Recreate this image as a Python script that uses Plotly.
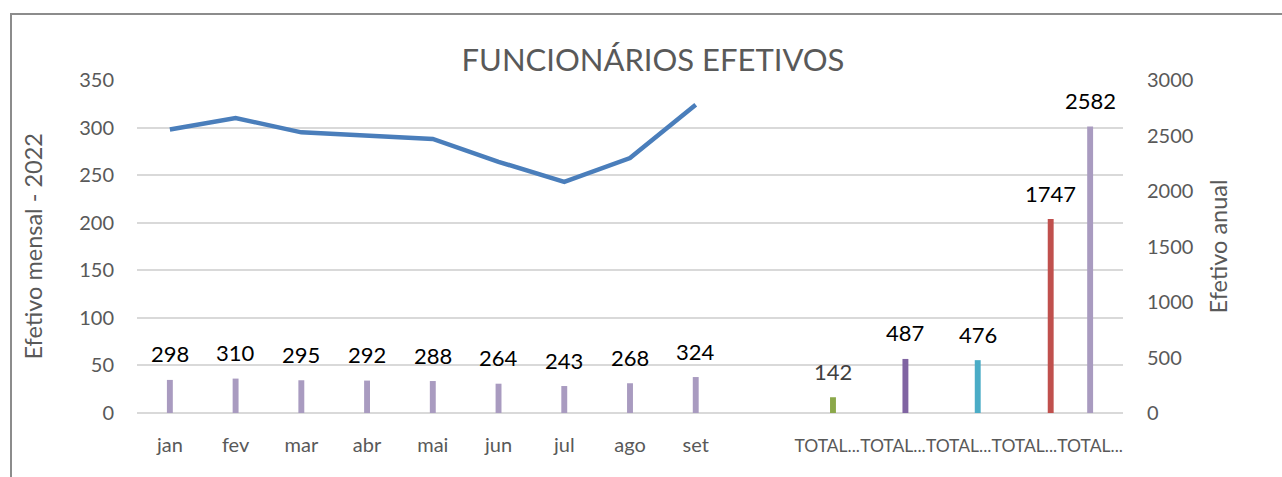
import plotly.graph_objects as go

# Categorias do eixo horizontal (meses de 2022, um espaço vazio e os totais anuais)
meses = ["jan", "fev", "mar", "abr", "mai", "jun", "jul", "ago", "set"]
rotulos_totais = ["TOTAL...", "TOTAL...", "TOTAL...", "TOTAL...", "TOTAL..."]
categorias = meses + [""] + rotulos_totais

# Efetivo mensal (linha no eixo principal e barras no eixo secundário)
efetivo_mensal = [298, 310, 295, 292, 288, 264, 243, 268, 324]

# Efetivo anual (barras no eixo secundário)
totais = [142, 487, 476, 1747, 2582]

# Estilo
COR_LINHA = "#4A7EBB"
COR_MES = "#A99BC0"
cores_totais = ["#8BA84A", "#8064A2", "#4BACC6", "#C0504D", "#A99BC0"]
deslocamento_totais = [0.088, 0.19, 0.29, 0.40, 0.0]
LARGURA = 0.09
FONTE = "Lato"
CINZA_TEXTO = "#595959"
CINZA_GRADE = "#D9D9D9"

pos_meses = list(range(len(meses)))
pos_totais = list(range(len(meses) + 1, len(categorias)))

x_barras = pos_meses + pos_totais
y_barras = efetivo_mensal + totais
cores_barras = [COR_MES] * len(meses) + cores_totais
offsets = [-LARGURA / 2] * len(meses) + [d - LARGURA / 2 for d in deslocamento_totais]

# Rótulos dos totais um pouco menores para caberem lado a lado
textos_eixo_x = meses + [""] + [
    f'<span style="font-size:17.5px">{r}</span>' for r in rotulos_totais
]

fig = go.Figure()

fig.add_trace(go.Bar(
    x=x_barras, y=y_barras, yaxis="y2",
    width=LARGURA, offset=offsets,
    marker=dict(color=cores_barras, line=dict(width=0)),
    showlegend=False, hoverinfo="x+y",
))

fig.add_trace(go.Scatter(
    x=pos_meses, y=efetivo_mensal, mode="lines",
    line=dict(color=COR_LINHA, width=4.5),
    showlegend=False,
))

# Rótulos de valor acima de cada barra
anotacoes = []
cores_rotulos = ["#000000"] * len(meses) + ["#404040", "#000000", "#000000", "#000000", "#000000"]
for xi, yi, off, cor in zip(x_barras, y_barras, offsets, cores_rotulos):
    anotacoes.append(dict(
        x=xi + off + LARGURA / 2, y=yi, xref="x", yref="y2",
        text=str(yi), showarrow=False, yshift=26,
        font=dict(family=FONTE, size=22, color=cor),
    ))

# Títulos dos eixos
anotacoes.append(dict(
    x=-0.1055, y=0.5, xref="paper", yref="paper", text="Efetivo mensal - 2022",
    textangle=-90, showarrow=False, xanchor="center", yanchor="middle",
    font=dict(family=FONTE, size=23.5, color=CINZA_TEXTO),
))
anotacoes.append(dict(
    x=1.0963, y=0.5, xref="paper", yref="paper", text="Efetivo anual",
    textangle=-90, showarrow=False, xanchor="center", yanchor="middle",
    font=dict(family=FONTE, size=23.5, color=CINZA_TEXTO),
))

# Moldura da área do gráfico (borda superior e esquerda)
W, H = 1282, 477
L, R, T, B = 137, 159, 80, 64
pw, ph = W - L - R, H - T - B


def px_x(px):
    return (px - L) / pw


def px_y(py):
    return (H - B - py) / ph


moldura = dict(
    type="path", xref="paper", yref="paper",
    path=f"M {px_x(11)} {px_y(480)} L {px_x(11)} {px_y(14)} L {px_x(1290)} {px_y(14)}",
    line=dict(color="#8C8C8C", width=2),
)

fig.update_layout(
    width=W, height=H,
    margin=dict(l=L, r=R, t=T, b=B),
    paper_bgcolor="white", plot_bgcolor="white",
    barmode="overlay",
    title=dict(
        text="FUNCIONÁRIOS EFETIVOS", x=653 / W, xref="container", xanchor="center",
        y=1 - 60 / H, yref="container", yanchor="middle",
        font=dict(family=FONTE, size=31, color=CINZA_TEXTO),
    ),
    xaxis=dict(
        range=[-0.5, len(categorias) - 0.5],
        tickmode="array", tickvals=list(range(len(categorias))), ticktext=textos_eixo_x,
        tickangle=0, showgrid=False, zeroline=False, showline=False, ticks="",
        tickfont=dict(family=FONTE, size=20, color=CINZA_TEXTO),
        ticklabelstandoff=18,
    ),
    yaxis=dict(
        range=[0, 350], dtick=50, tick0=0,
        showgrid=True, gridcolor=CINZA_GRADE, gridwidth=1.5,
        zeroline=True, zerolinecolor=CINZA_GRADE, zerolinewidth=1.5,
        showline=False, ticks="",
        tickfont=dict(family=FONTE, size=20, color=CINZA_TEXTO),
        ticklabelstandoff=22,
    ),
    yaxis2=dict(
        range=[0, 3000], dtick=500, tick0=0, overlaying="y", side="right",
        showgrid=False, zeroline=False, showline=False, ticks="",
        tickfont=dict(family=FONTE, size=20, color=CINZA_TEXTO),
        ticklabelstandoff=23,
    ),
    annotations=anotacoes,
    shapes=[moldura],
)

fig.write_html("out.html")
